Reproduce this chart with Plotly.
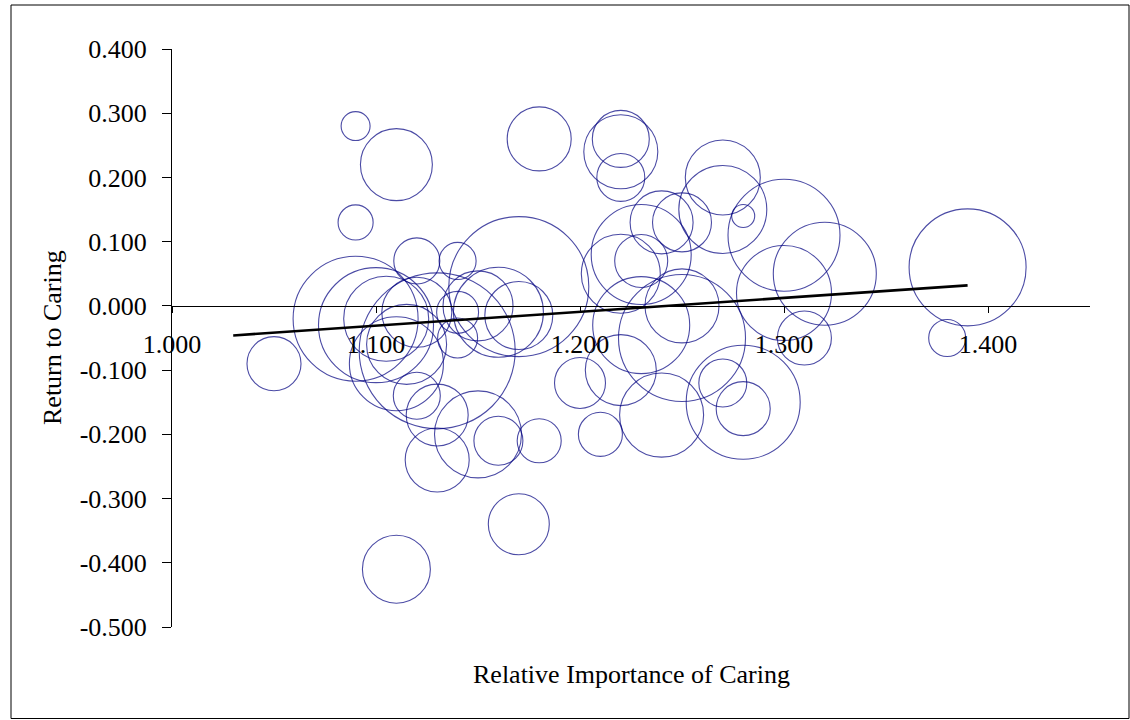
import plotly.graph_objects as go

# ---- data ----
importance = [1.05, 1.09, 1.09, 1.11, 1.12, 1.14, 1.18, 1.17, 1.17,
              1.09, 1.10, 1.105, 1.12, 1.14, 1.14, 1.11, 1.115, 1.13,
              1.12, 1.13, 1.13, 1.15, 1.16, 1.18, 1.17, 1.11, 1.15, 1.16,
              1.20, 1.21, 1.22, 1.24, 1.25, 1.27, 1.28, 1.28, 1.31,
              1.22, 1.22, 1.22, 1.27, 1.27, 1.28, 1.30, 1.32, 1.30,
              1.24, 1.25, 1.23, 1.23, 1.22, 1.25, 1.23, 1.39, 1.38]
return_caring = [-0.09, 0.28, 0.13, 0.22, 0.07, 0.07, 0.26, 0.03, -0.015,
                 -0.02, -0.03, -0.02, -0.01, -0.01, -0.05, -0.09, -0.06, -0.07,
                 -0.14, -0.17, -0.24, -0.20, -0.21, -0.21, -0.34, -0.41, 0.00, -0.01,
                 -0.12, -0.20, -0.10, -0.17, -0.05, -0.12, -0.16, -0.15, -0.05,
                 0.26, 0.24, 0.20, 0.20, 0.15, 0.14, 0.11, 0.05, 0.02,
                 0.13, 0.13, 0.08, 0.07, 0.05, 0.00, -0.03, 0.06, -0.05]
weight = [29.2, 8.4, 12.3, 51.8, 21.2, 13.7, 41.0, 196.0, 46.2,
          156.3, 132.3, 72.3, 49.0, 17.6, 16.0, 88.4, 64.0, 243.4,
          22.1, 38.4, 41.0, 75.7, 24.0, 19.4, 37.2, 46.2, 49.0, 81.0,
          26.0, 19.4, 50.4, 70.6, 161.3, 23.0, 29.2, 130.0, 29.2,
          32.5, 54.8, 23.0, 56.3, 77.4, 5.3, 125.4, 106.1, 90.3,
          39.7, 34.8, 100.0, 28.1, 62.4, 54.8, 94.1, 136.9, 13.7]

trend_x = [1.03, 1.39]
trend_y = [-0.046, 0.032]

x_tickvals = [1.0, 1.1, 1.2, 1.3, 1.4]
x_ticktext = ["1.000", "1.100", "1.200", "1.300", "1.400"]
y_tickvals = [0.4, 0.3, 0.2, 0.1, 0.0, -0.1, -0.2, -0.3, -0.4, -0.5]
y_ticktext = ["0.400", "0.300", "0.200", "0.100", "0.000",
              "-0.100", "-0.200", "-0.300", "-0.400", "-0.500"]

x_title = "Relative Importance of Caring"
y_title = "Return to Caring"

# ---- layout constants ----
W, H = 1130, 720
L, R, T, B = 172, 40, 49, 93
PW, PH = W - L - R, H - T - B
X_RANGE = [1.0, 1.45]
Y_RANGE = [-0.5, 0.4]
FONT = "Liberation Serif, Times New Roman, serif"
FS = 26
MAX_BUBBLE_PX = 156  # diameter of the largest bubble


def px_to_paper_x(px):
    return (px - L) / PW


def px_to_paper_y(py):
    return (H - B - py) / PH


fig = go.Figure()

fig.add_trace(go.Scatter(
    x=importance, y=return_caring, mode="markers",
    marker=dict(
        size=weight, sizemode="area",
        sizeref=2.0 * max(weight) / (MAX_BUBBLE_PX ** 2),
        color="rgba(0,0,0,0)",
        line=dict(color="#000080", width=1.1),
    ),
    hoverinfo="x+y", showlegend=False, cliponaxis=False,
))

fig.add_trace(go.Scatter(
    x=trend_x, y=trend_y, mode="lines",
    line=dict(color="black", width=2.6),
    hoverinfo="skip", showlegend=False,
))

zero_pos = (0 - Y_RANGE[0]) / (Y_RANGE[1] - Y_RANGE[0])

fig.update_layout(
    width=W, height=H,
    margin=dict(l=L, r=R, t=T, b=B, pad=0),
    paper_bgcolor="white", plot_bgcolor="white",
    font=dict(family=FONT, size=FS, color="black"),
    xaxis=dict(
        range=X_RANGE, tickvals=x_tickvals, ticktext=x_ticktext,
        showgrid=False, zeroline=False,
        showline=True, linecolor="black", linewidth=1,
        ticks="outside", ticklen=6, tickcolor="black", tickwidth=1,
        anchor="free", position=zero_pos,
        ticklabelstandoff=9,
    ),
    yaxis=dict(
        range=Y_RANGE, tickvals=y_tickvals, ticktext=y_ticktext,
        showgrid=False, zeroline=False,
        showline=True, linecolor="black", linewidth=1,
        ticks="outside", ticklen=9, tickcolor="black", tickwidth=1,
        ticklabelstandoff=10,
    ),
    annotations=[
        dict(text=x_title, xref="paper", yref="paper",
             x=0.5, y=px_to_paper_y(674), xanchor="center", yanchor="middle",
             showarrow=False, font=dict(family=FONT, size=FS)),
        dict(text=y_title, xref="paper", yref="paper", textangle=-90,
             x=px_to_paper_x(52), y=0.5, xanchor="center", yanchor="middle",
             showarrow=False, font=dict(family=FONT, size=FS)),
    ],
    shapes=[
        dict(type="rect", xref="paper", yref="paper",
             x0=px_to_paper_x(11), x1=px_to_paper_x(1129),
             y0=px_to_paper_y(718.5), y1=px_to_paper_y(5),
             line=dict(color="black", width=1), fillcolor="rgba(0,0,0,0)",
             layer="below"),
    ],
)

fig.write_html("out.html", config={"displayModeBar": False},
               post_script="document.body.style.margin='0';document.body.style.overflow='hidden';")
